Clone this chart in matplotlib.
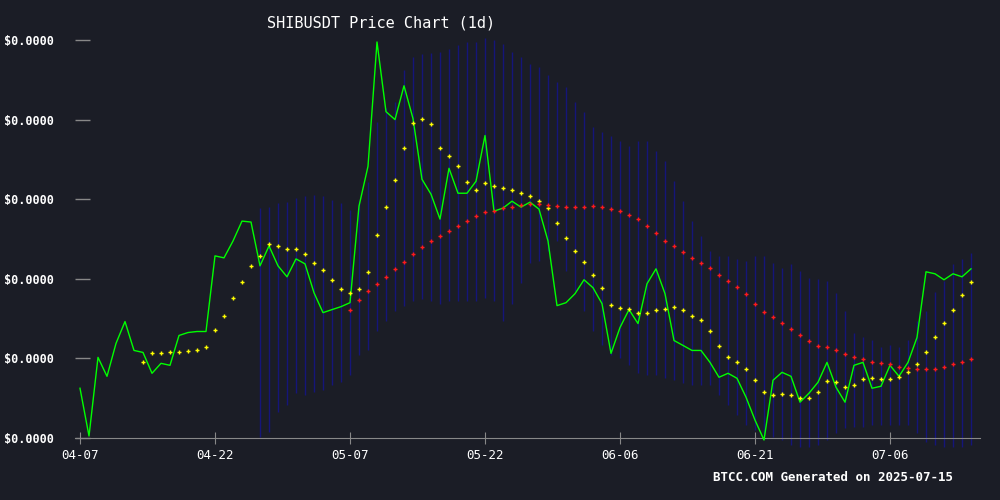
import matplotlib
matplotlib.use("Agg")
import matplotlib.pyplot as plt
import numpy as np
import pandas as pd

# Prices in micro-USD (1e-6 USD)
close = [11.625, 11.025, 12.013, 11.775, 12.188, 12.463, 12.100, 12.075, 11.813, 11.938,
         11.913, 12.288, 12.325, 12.338, 12.338, 13.288, 13.263, 13.475, 13.725, 13.713,
         13.163, 13.413, 13.163, 13.025, 13.250, 13.188, 12.825, 12.575, 12.613, 12.650,
         12.700, 13.913, 14.413, 15.975, 15.100, 15.000, 15.425, 15.013, 14.250, 14.063,
         13.750, 14.388, 14.075, 14.075, 14.225, 14.800, 13.850, 13.888, 13.975, 13.900,
         13.963, 13.875, 13.475, 12.663, 12.700, 12.813, 12.988, 12.888, 12.688, 12.063,
         12.388, 12.613, 12.438, 12.938, 13.125, 12.813, 12.225, 12.163, 12.100, 12.100,
         11.950, 11.763, 11.813, 11.750, 11.513, 11.225, 10.975, 11.725, 11.825, 11.775,
         11.450, 11.563, 11.700, 11.950, 11.638, 11.450, 11.913, 11.950, 11.625, 11.650,
         11.913, 11.775, 11.950, 12.263, 13.088, 13.063, 12.988, 13.063, 13.025, 13.125]

ma_short_start = 7
ma_short = [11.950, 12.063, 12.063, 12.075, 12.075, 12.088, 12.100, 12.138, 12.363, 12.538,
            12.763, 12.963, 13.163, 13.288, 13.438, 13.413, 13.375, 13.375, 13.313, 13.200,
            13.113, 12.988, 12.875, 12.825, 12.875, 13.088, 13.550, 13.900, 14.238, 14.638,
            14.963, 15.013, 14.950, 14.638, 14.538, 14.413, 14.213, 14.113, 14.200, 14.163,
            14.138, 14.113, 14.075, 14.038, 13.975, 13.888, 13.700, 13.513, 13.350, 13.213,
            13.050, 12.888, 12.675, 12.638, 12.625, 12.575, 12.575, 12.613, 12.625, 12.650,
            12.613, 12.538, 12.488, 12.350, 12.150, 12.013, 11.950, 11.863, 11.725, 11.575,
            11.538, 11.550, 11.538, 11.500, 11.500, 11.575, 11.713, 11.700, 11.638, 11.663,
            11.738, 11.750, 11.738, 11.738, 11.763, 11.825, 11.925, 12.075, 12.263, 12.450,
            12.613, 12.800, 12.963]

ma_long_start = 30
ma_long = [12.613, 12.738, 12.850, 12.938, 13.025, 13.125, 13.213, 13.313, 13.400, 13.475,
           13.538, 13.600, 13.663, 13.725, 13.788, 13.838, 13.850, 13.888, 13.900, 13.925,
           13.938, 13.938, 13.925, 13.913, 13.900, 13.900, 13.900, 13.913, 13.900, 13.875,
           13.850, 13.800, 13.750, 13.663, 13.575, 13.475, 13.413, 13.338, 13.263, 13.200,
           13.138, 13.050, 12.975, 12.900, 12.813, 12.688, 12.588, 12.525, 12.450, 12.375,
           12.288, 12.213, 12.150, 12.138, 12.100, 12.050, 12.013, 11.988, 11.950, 11.938,
           11.925, 11.888, 11.875, 11.863, 11.863, 11.863, 11.888, 11.925, 11.950, 11.988]

band_start = 20
band_upper = [13.888, 13.900, 13.950, 13.963, 14.013, 14.038, 14.050, 14.038, 13.988, 13.950,
              13.863, 13.975, 14.213, 14.975, 15.150, 15.225, 15.625, 15.788, 15.825, 15.838,
              15.850, 15.888, 15.938, 15.975, 15.975, 16.025, 16.000, 15.950, 15.850, 15.788,
              15.700, 15.663, 15.563, 15.475, 15.413, 15.225, 15.100, 14.913, 14.850, 14.788,
              14.725, 14.663, 14.725, 14.725, 14.600, 14.475, 14.225, 13.975, 13.725, 13.538,
              13.350, 13.288, 13.288, 13.250, 13.225, 13.288, 13.288, 13.200, 13.138, 13.188,
              13.100, 13.013, 13.000, 12.975, 12.825, 12.600, 12.313, 12.263, 12.225, 12.138,
              12.163, 12.138, 12.225, 12.475, 12.600, 12.838, 12.975, 13.188, 13.250, 13.325]
band_lower = [11.013, 11.075, 11.325, 11.413, 11.563, 11.538, 11.575, 11.600, 11.663, 11.700,
              11.788, 12.038, 12.100, 12.350, 12.475, 12.600, 12.663, 12.725, 12.750, 12.725,
              12.688, 12.725, 12.725, 12.725, 12.725, 12.763, 12.725, 12.475, 12.688, 12.950,
              13.200, 13.225, 13.350, 13.475, 13.100, 12.850, 12.600, 12.350, 12.163, 12.038,
              12.000, 11.913, 11.813, 11.788, 11.788, 11.750, 11.725, 11.688, 11.663, 11.663,
              11.663, 11.538, 11.413, 11.288, 11.163, 11.100, 11.038, 11.013, 10.975, 10.913,
              10.888, 10.888, 10.913, 10.975, 11.063, 11.125, 11.138, 11.138, 11.163, 11.163,
              11.163, 11.163, 11.163, 11.063, 10.950, 10.913, 10.888, 10.888, 10.888, 10.913]

start_date = "2025-04-07"
y_ticks = [11.0, 12.0, 13.0, 14.0, 15.0, 16.0]
x_tick_labels = ["04-07", "04-22", "05-07", "05-22", "06-06", "06-21", "07-06"]
title = "SHIBUSDT Price Chart (1d)"
footer = "BTCC.COM Generated on 2025-07-15"

bg = "#1b1d26"
dates = pd.date_range(start_date, periods=len(close), freq="D")
n = np.arange(len(close))

fig = plt.figure(figsize=(10, 5), dpi=100, facecolor=bg)
ax = fig.add_axes([0.075, 0.124, 0.905, 0.796], facecolor=bg)
x0 = -5 / 9
ax.set_xlim(x0, x0 + 905 / 9)
ax.set_ylim(11.0, 16.0)

bi = np.arange(band_start, band_start + len(band_upper))
ax.vlines(bi, band_lower, band_upper, colors="#15157a", linewidth=1.0, clip_on=False, zorder=1)
ax.plot(n, close, color="#00ff00", linewidth=1, clip_on=False, zorder=3)
ax.plot(np.arange(ma_short_start, ma_short_start + len(ma_short)), ma_short, ls="none",
        marker="+", markersize=3, mew=1, color="#ffff00", zorder=4)
ax.plot(np.arange(ma_long_start, ma_long_start + len(ma_long)), ma_long, ls="none",
        marker="+", markersize=3, mew=1, color="#ff1a1a", zorder=4)

for s in ["top", "right", "left"]:
    ax.spines[s].set_visible(False)
ax.spines["bottom"].set_color("#888888")

tick_pos = [i for i, d in enumerate(dates) if d.strftime("%m-%d") in x_tick_labels]
ax.set_xticks(tick_pos)
ax.set_xticklabels([dates[i].strftime("%m-%d") for i in tick_pos], fontfamily="DejaVu Sans Mono",
                   fontsize=9, color="white")
ax.tick_params(axis="x", direction="inout", length=8, color="#888888", pad=4)
ax.set_yticks(y_ticks)
ax.set_yticklabels(["$0.0000" for _ in y_ticks], fontfamily="DejaVu Sans Mono", fontsize=8.5,
                   fontweight="bold", color="white")
ax.tick_params(axis="y", direction="in", length=11, color="#888888", pad=15, width=1)

fig.text(0.381, 0.955, title, ha="center", va="center", color="white",
         fontfamily="DejaVu Sans Mono", fontsize=11)
fig.text(0.953, 0.045, footer, ha="right", va="center", color="white",
         fontfamily="DejaVu Sans Mono", fontsize=9, fontweight="bold")

fig.savefig("out.png", dpi=100, facecolor=bg)
